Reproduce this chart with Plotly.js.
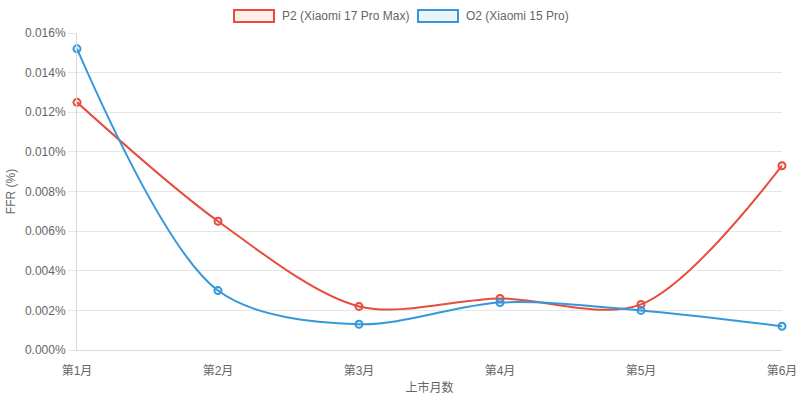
<!DOCTYPE html>
<html>
<head>
<meta charset="utf-8">
<script src="https://cdn.plot.ly/plotly-3.0.1.min.js"></script>
<style>
  html, body { margin: 0; padding: 0; background: #ffffff; }
  #plot { width: 800px; height: 401px; }
</style>
</head>
<body>
<div id="plot"></div>
<script>
  // Monate nach Markteinführung
  var months = ["第1月", "第2月", "第3月", "第4月", "第5月", "第6月"];

  // FFR in Prozent
  var p2Name = "P2 (Xiaomi 17 Pro Max)";
  var p2Values = [0.0125, 0.0065, 0.0022, 0.0026, 0.0023, 0.0093];

  var o2Name = "O2 (Xiaomi 15 Pro)";
  var o2Values = [0.0152, 0.0030, 0.0013, 0.0024, 0.0020, 0.0012];

  var yTicks = [0, 0.002, 0.004, 0.006, 0.008, 0.010, 0.012, 0.014, 0.016];
  var yTickText = yTicks.map(function (v) { return v.toFixed(3) + "%"; });

  var FONT = "'Helvetica Neue', Helvetica, Arial, 'Liberation Sans', 'Noto Sans CJK SC', sans-serif";
  var RED = "#e74c3c";
  var BLUE = "#3498db";
  var RED_FILL = "rgba(231,76,60,0.1)";
  var BLUE_FILL = "rgba(52,152,219,0.1)";

  function seriesTrace(name, values, color, fill) {
    return {
      x: months,
      y: values,
      name: name,
      type: "scatter",
      mode: "lines+markers",
      cliponaxis: false,
      line: { color: color, width: 2, shape: "spline", smoothing: 0.9 },
      marker: {
        size: 7,
        color: fill,
        line: { color: color, width: 2 }
      }
    };
  }

  var traces = [
    seriesTrace(p2Name, p2Values, RED, RED_FILL),
    seriesTrace(o2Name, o2Values, BLUE, BLUE_FILL)
  ];

  var W = 800, H = 401;
  var M = { l: 77, r: 18, t: 33, b: 51 };
  // Pixel -> paper, damit die Legende wie im Original sitzt
  function px(x) { return (x - M.l) / (W - M.l - M.r); }
  function py(y) { return (H - M.b - y) / (H - M.t - M.b); }

  /*
    Legende von Hand: Kästchen mit heller Füllung und Rahmen,
    so wie Chart.js sie zeichnet.
  */
  var shapes = [
    {
      type: "rect", xref: "paper", yref: "paper",
      x0: px(234), x1: px(274), y0: py(22), y1: py(10),
      line: { color: RED, width: 2 }, fillcolor: RED_FILL
    },
    {
      type: "rect", xref: "paper", yref: "paper",
      x0: px(418), x1: px(458), y0: py(22), y1: py(10),
      line: { color: BLUE, width: 2 }, fillcolor: BLUE_FILL
    }
  ];

  var annotations = [
    {
      xref: "paper", yref: "paper", x: px(280), y: py(16),
      xanchor: "left", yanchor: "middle", showarrow: false,
      text: p2Name, font: { family: FONT, size: 12, color: "#666666" }
    },
    {
      xref: "paper", yref: "paper", x: px(464), y: py(16),
      xanchor: "left", yanchor: "middle", showarrow: false,
      text: o2Name, font: { family: FONT, size: 12, color: "#666666" }
    }
  ];

  var layout = {
    width: W,
    height: H,
    margin: M,
    showlegend: false,
    paper_bgcolor: "#ffffff",
    plot_bgcolor: "#ffffff",
    font: { family: FONT, size: 12, color: "#666666" },

    xaxis: {
      type: "category",
      range: [0, months.length - 1],
      showgrid: false,
      zeroline: false,
      showline: true,
      linecolor: "#d9d9d9",
      linewidth: 1,
      ticks: "",
      ticklabelstandoff: 10,
      tickfont: { family: FONT, size: 12, color: "#666666" },
      title: {
        text: "上市月数",
        standoff: 6,
        font: { family: FONT, size: 12, color: "#666666" }
      }
    },

    yaxis: {
      range: [0, 0.016],
      tickmode: "array",
      tickvals: yTicks,
      ticktext: yTickText,
      showgrid: true,
      gridcolor: "#e6e6e6",
      gridwidth: 1,
      zeroline: false,
      showline: true,
      linecolor: "#d9d9d9",
      ticks: "outside",
      ticklen: 8,
      tickcolor: "#e6e6e6",
      tickfont: { family: FONT, size: 12, color: "#666666" },
      title: {
        text: "FFR (%)",
        standoff: 6,
        font: { family: FONT, size: 12, color: "#666666" }
      }
    },

    shapes: shapes,
    annotations: annotations
  };

  Plotly.newPlot("plot", traces, layout, { displayModeBar: false, staticPlot: true });
</script>
</body>
</html>
